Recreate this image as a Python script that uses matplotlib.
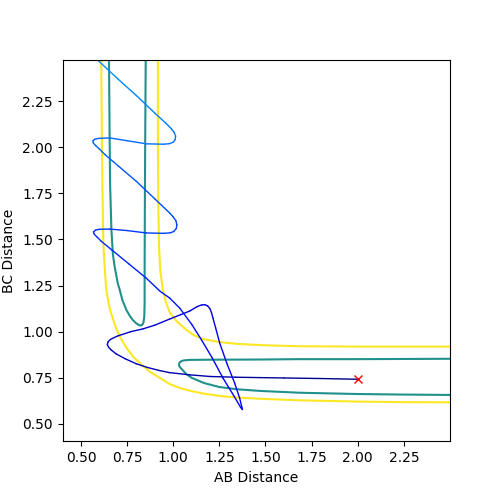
import matplotlib
matplotlib.use('Agg')
import matplotlib.pyplot as plt
import numpy as np
from matplotlib.collections import LineCollection

# Trajectory (AB, BC), in time order from the start point
traj_ab = [2.00, 1.80, 1.60, 1.468, 1.34, 1.20, 1.09, 0.98, 0.927, 0.86, 0.80, 0.74,
           0.69, 0.665, 0.650, 0.643, 0.647, 0.660, 0.680, 0.70, 0.77, 0.836, 0.90, 0.98,
           1.04, 1.09, 1.13, 1.155, 1.172, 1.186, 1.198, 1.207, 1.215, 1.23, 1.252, 1.29,
           1.333, 1.36, 1.372, 1.375, 1.365, 1.33, 1.27, 1.21, 1.153, 1.10, 1.035, 0.981,
           0.93, 0.854, 0.76, 0.666, 0.61, 0.585, 0.572, 0.568, 0.578, 0.60, 0.656, 0.75,
           0.854, 0.95, 0.985, 1.003, 1.016, 1.02, 1.015, 1.00, 0.981, 0.90, 0.80, 0.70,
           0.63, 0.60, 0.58, 0.567, 0.565, 0.575, 0.60, 0.656, 0.75, 0.854, 0.95, 0.98,
           1.00, 1.010, 1.013, 1.005, 0.99, 0.96, 0.90, 0.80, 0.70, 0.587, 0.56]
traj_bc = [0.742, 0.746, 0.749, 0.751, 0.753, 0.757, 0.766, 0.778, 0.789, 0.806, 0.826, 0.853,
           0.880, 0.900, 0.915, 0.930, 0.945, 0.958, 0.968, 0.977, 1.000, 1.015, 1.035, 1.068,
           1.092, 1.112, 1.136, 1.145, 1.146, 1.140, 1.126, 1.105, 1.075, 1.020, 0.938, 0.830,
           0.721, 0.640, 0.590, 0.578, 0.590, 0.650, 0.748, 0.860, 0.956, 1.040, 1.128, 1.182,
           1.218, 1.290, 1.367, 1.444, 1.490, 1.515, 1.528, 1.540, 1.550, 1.555, 1.556, 1.548,
           1.535, 1.533, 1.536, 1.543, 1.558, 1.578, 1.600, 1.622, 1.643, 1.720, 1.815, 1.900,
           1.960, 1.990, 2.008, 2.022, 2.035, 2.043, 2.048, 2.050, 2.035, 2.018, 2.016, 2.019,
           2.027, 2.040, 2.060, 2.080, 2.100, 2.130, 2.185, 2.280, 2.370, 2.475, 2.500]

start_point = (2.00, 0.742)

# Contour lines
yellow_outer_ab = [0.610, 0.612, 0.615, 0.619, 0.622, 0.630, 0.637, 0.655, 0.673, 0.690, 0.710,
                   0.745, 0.782, 0.830, 0.872, 0.930, 0.981, 1.035, 1.089, 1.161, 1.250, 1.342,
                   1.500, 1.685, 2.000, 2.250, 2.500]
yellow_outer_bc = [2.480, 2.200, 1.900, 1.600, 1.460, 1.330, 1.227, 1.128, 1.070, 1.020, 0.974,
                   0.915, 0.865, 0.820, 0.784, 0.748, 0.716, 0.695, 0.680, 0.665, 0.652, 0.643,
                   0.635, 0.628, 0.621, 0.618, 0.617]

yellow_inner_ab = [0.917, 0.917, 0.919, 0.923, 0.930, 0.944, 0.960, 0.981, 1.020, 1.071, 1.110,
                   1.161, 1.250, 1.342, 1.500, 1.685, 2.000, 2.500]
yellow_inner_bc = [2.480, 2.000, 1.700, 1.460, 1.330, 1.227, 1.160, 1.104, 1.055, 1.010, 0.982,
                   0.960, 0.944, 0.934, 0.926, 0.921, 0.919, 0.919]

teal_upper_ab = [0.652, 0.655, 0.658, 0.665, 0.673, 0.683, 0.700, 0.710, 0.725, 0.746, 0.765,
                 0.782, 0.800, 0.812, 0.822, 0.832, 0.839, 0.843, 0.845, 0.845, 0.846, 0.848,
                 0.851]
teal_upper_bc = [2.480, 2.100, 1.800, 1.553, 1.420, 1.350, 1.260, 1.227, 1.170, 1.118, 1.085,
                 1.062, 1.045, 1.037, 1.033, 1.037, 1.050, 1.080, 1.150, 1.300, 1.600, 2.000,
                 2.480]

teal_lower_ab = [2.500, 2.000, 1.685, 1.468, 1.200, 1.089, 1.055, 1.040, 1.033, 1.031, 1.036,
                 1.048, 1.060, 1.071, 1.100, 1.161, 1.180, 1.250, 1.342, 1.468, 1.685, 2.000,
                 2.250, 2.500]
teal_lower_bc = [0.853, 0.851, 0.851, 0.849, 0.848, 0.847, 0.844, 0.838, 0.830, 0.820, 0.808,
                 0.795, 0.782, 0.770, 0.750, 0.724, 0.718, 0.700, 0.688, 0.679, 0.669, 0.662,
                 0.659, 0.657]

teal = plt.cm.viridis(0.5)
yellow = plt.cm.viridis(1.0)

fig, ax = plt.subplots(figsize=(5, 4.96), dpi=100)

ax.plot(yellow_outer_ab, yellow_outer_bc, color=yellow, lw=1.5, zorder=1)
ax.plot(yellow_inner_ab, yellow_inner_bc, color=yellow, lw=1.5, zorder=1)
ax.plot(teal_upper_ab, teal_upper_bc, color=teal, lw=1.5, zorder=1)
ax.plot(teal_lower_ab, teal_lower_bc, color=teal, lw=1.5, zorder=1)

# trajectory coloured along its length
pts = np.column_stack([traj_ab, traj_bc])
segs = np.stack([pts[:-1], pts[1:]], axis=1)
seg_len = np.hypot(*(pts[1:] - pts[:-1]).T)
s_mid = np.cumsum(seg_len) - seg_len / 2
cols = plt.cm.jet(0.27 * s_mid / s_mid[-1])
lc = LineCollection(segs, colors=cols, linewidths=1.0, zorder=2, capstyle='round',
                    joinstyle='round')
ax.add_collection(lc)

ax.plot(start_point[0], start_point[1], 'rx', zorder=3)

ax.set_xlim(0.4, 2.5)
ax.set_ylim(0.405, 2.475)
ax.set_xticks([0.5, 0.75, 1.0, 1.25, 1.5, 1.75, 2.0, 2.25])
ax.set_yticks([0.5, 0.75, 1.0, 1.25, 1.5, 1.75, 2.0, 2.25])
ax.set_xlabel('AB Distance')
ax.set_ylabel('BC Distance')

plt.savefig('out.png', dpi=100)
